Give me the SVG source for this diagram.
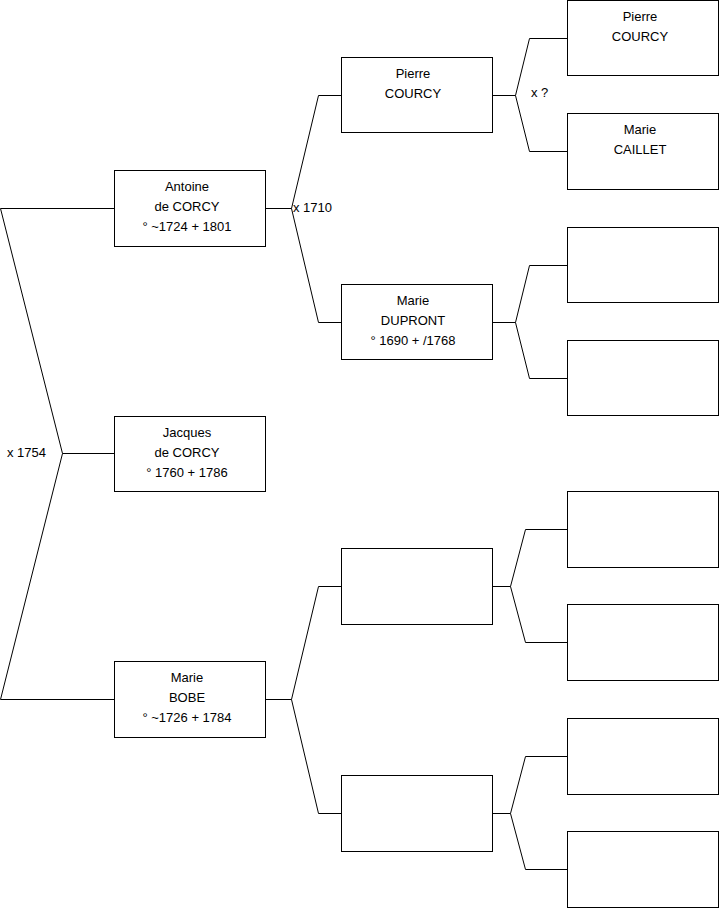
<svg xmlns="http://www.w3.org/2000/svg" width="719" height="908" viewBox="0 0 719 908">
<style>
.box{fill:#fff;stroke:#000;stroke-width:1}
.c{fill:none;stroke:#000;stroke-width:1}
text{font-family:"Liberation Sans",Arial,sans-serif;font-size:13px;fill:#000}
.t{text-anchor:middle}
</style>
<rect width="719" height="908" fill="#fff"/>
<g id="connectors">
<path class="c" d="M0.5,208.5 H114.5 M0.5,208.5 L62.5,453.5 H114.5 M62.5,453.5 L0.5,699.5 H114.5"/>
<path class="c" d="M265.5,208.5 H291.5 L318.5,95.5 H341.5 M291.5,208.5 L318.5,322.5 H341.5"/>
<path class="c" d="M265.5,699.5 H291.5 L318.5,586.5 H341.5 M291.5,699.5 L318.5,813.5 H341.5"/>
<path class="c" d="M492.5,95.5 H515.5 L529.5,38.5 H567.5 M515.5,95.5 L529.5,151.5 H567.5"/>
<path class="c" d="M492.5,322.5 H515.5 L529.5,265.5 H567.5 M515.5,322.5 L529.5,378.5 H567.5"/>
<path class="c" d="M492.5,586.5 H510.5 L525.5,529.5 H567.5 M510.5,586.5 L525.5,642.5 H567.5"/>
<path class="c" d="M492.5,813.5 H510.5 L525.5,756.5 H567.5 M510.5,813.5 L525.5,869.5 H567.5"/>
<text x="7" y="457">x 1754</text>
<text x="293" y="212">x 1710</text>
<text x="531" y="97">x ?</text>
</g>
<g id="n-antoine"><rect class="box" x="114.5" y="170.5" width="151" height="76"/>
<text class="t" x="187" y="191">Antoine</text><text class="t" x="187" y="211">de CORCY</text><text class="t" x="187" y="231">° ~1724 + 1801</text></g>
<g id="n-jacques"><rect class="box" x="114.5" y="416.5" width="151" height="75"/>
<text class="t" x="187" y="437">Jacques</text><text class="t" x="187" y="457">de CORCY</text><text class="t" x="187" y="477">° 1760 + 1786</text></g>
<g id="n-bobe"><rect class="box" x="114.5" y="661.5" width="151" height="76"/>
<text class="t" x="187" y="682">Marie</text><text class="t" x="187" y="702">BOBE</text><text class="t" x="187" y="722">° ~1726 + 1784</text></g>
<g id="n-pierre"><rect class="box" x="341.5" y="57.5" width="151" height="75"/>
<text class="t" x="413" y="78">Pierre</text><text class="t" x="413" y="98">COURCY</text></g>
<g id="n-dupront"><rect class="box" x="341.5" y="284.5" width="151" height="75"/>
<text class="t" x="413" y="305">Marie</text><text class="t" x="413" y="325">DUPRONT</text><text class="t" x="413" y="345">° 1690 + /1768</text></g>
<g id="n-c2-3"><rect class="box" x="341.5" y="548.5" width="151" height="76"/></g>
<g id="n-c2-4"><rect class="box" x="341.5" y="775.5" width="151" height="76"/></g>
<g id="n-pierre2"><rect class="box" x="567.5" y="0.5" width="151" height="75"/>
<text class="t" x="640" y="21">Pierre</text><text class="t" x="640" y="41">COURCY</text></g>
<g id="n-caillet"><rect class="box" x="567.5" y="113.5" width="151" height="76"/>
<text class="t" x="640" y="134">Marie</text><text class="t" x="640" y="154">CAILLET</text></g>
<g id="n-c4-3"><rect class="box" x="567.5" y="227.5" width="151" height="75"/></g>
<g id="n-c4-4"><rect class="box" x="567.5" y="340.5" width="151" height="75"/></g>
<g id="n-c4-5"><rect class="box" x="567.5" y="491.5" width="151" height="76"/></g>
<g id="n-c4-6"><rect class="box" x="567.5" y="604.5" width="151" height="76"/></g>
<g id="n-c4-7"><rect class="box" x="567.5" y="718.5" width="151" height="76"/></g>
<g id="n-c4-8"><rect class="box" x="567.5" y="831.5" width="151" height="76"/></g>
</svg>
